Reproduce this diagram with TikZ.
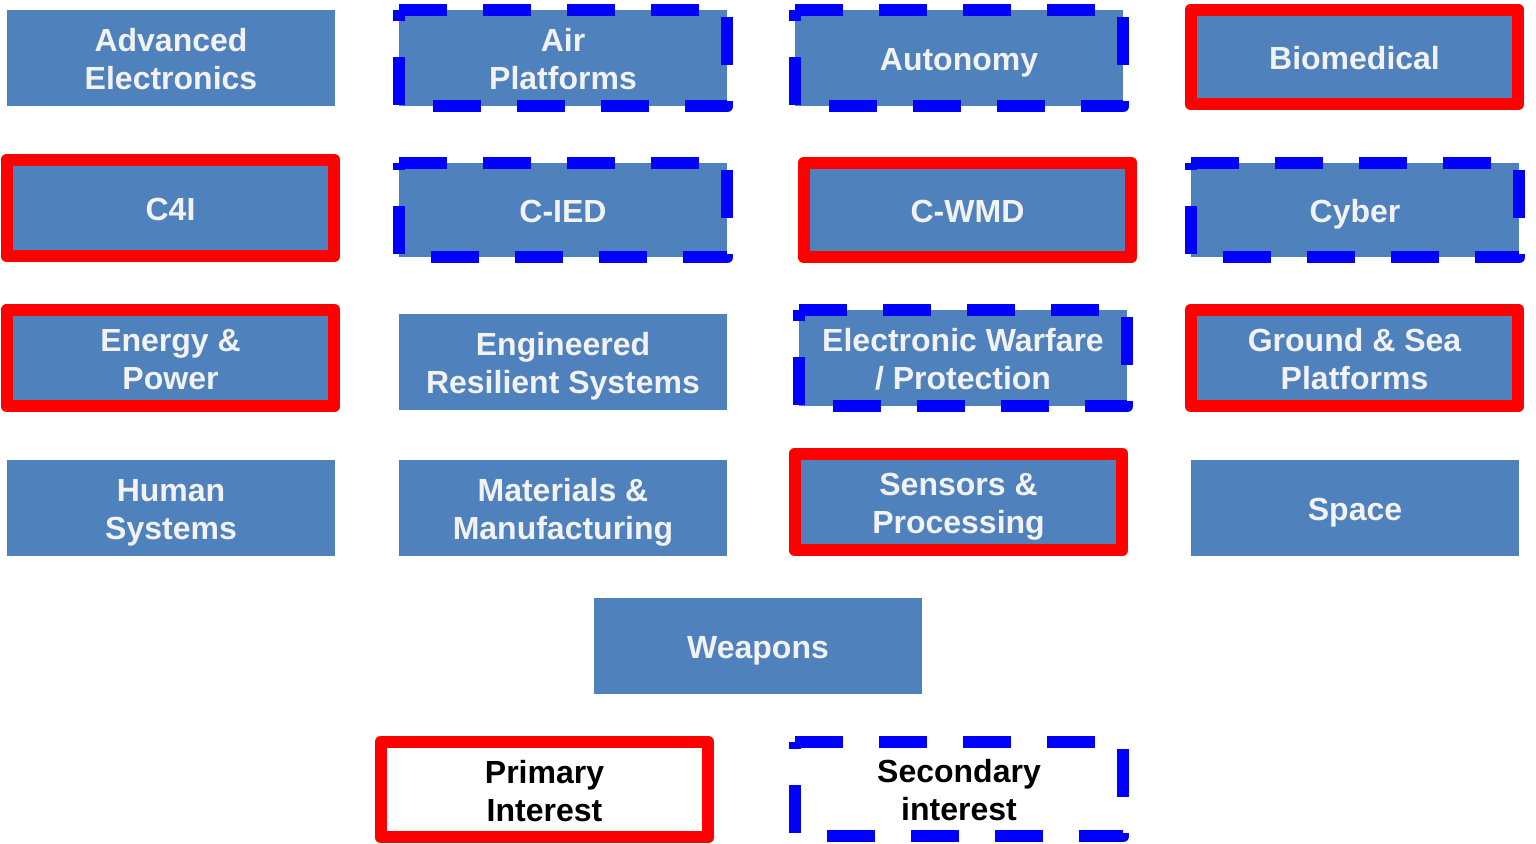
\documentclass[tikz,border=0pt]{standalone}
\usepackage{fontspec}
\setmainfont{Liberation Sans}
\definecolor{boxblue}{RGB}{79,129,189}
\definecolor{txtgray}{RGB}{242,242,242}
\newcommand{\myTopStrut}{\rule{0pt}{1.03em}}
\newcommand{\myBotStrut}{\rule[-0.25em]{0pt}{0.25em}}
\newcommand{\lbl}[1]{\myTopStrut#1\myBotStrut}
\begin{document}
\begin{tikzpicture}[x=0.5pt,y=-0.5pt,
  txt/.style={inner sep=0pt, align=center,
    font=\bfseries\fontsize{16}{19}\selectfont},
  box/.style={txt, fill=boxblue, text=txtgray},
  legendbox/.style={txt, text=black},
  sz/.style 2 args={minimum width=#1*0.5pt, minimum height=#2*0.5pt},
  redframe/.style={draw=red, line width=6pt, line join=round},
  blueframe/.style={draw=blue, line width=6pt, line join=round, line cap=butt,
    dash pattern=on 24pt off 18pt}]
\useasboundingbox (0,0) rectangle (1536,843);

% row 1
\node[box, sz={328}{96}] (adv) at (171,58) {\lbl{Advanced\\Electronics}};
\node[box, sz={328}{96}] (air) at (563,58) {\lbl{Air\\Platforms}};
\node[box, sz={328}{96}] (aut) at (959,58) {\lbl{Autonomy}};
\node[box, sz={327}{94}] (bio) at (1354.5,57) {\lbl{Biomedical}};
% row 2
\node[box, sz={327}{96}] (c4i) at (170.5,208) {\lbl{C4I}};
\node[box, sz={328}{94}] (cied) at (563,210) {\lbl{C-IED}};
\node[box, sz={327}{94}] (cwmd) at (967.5,210) {\lbl{C-WMD}};
\node[box, sz={328}{94}] (cyber) at (1355,210) {\lbl{Cyber}};
% row 3
\node[box, sz={327}{96}] (energy) at (170.5,358) {\lbl{Energy \&\\Power}};
\node[box, sz={328}{96}] (ers) at (563,362) {\lbl{Engineered\\Resilient Systems}};
\node[box, sz={328}{96}] (ew) at (963,358) {\lbl{Electronic Warfare\\/ Protection}};
\node[box, sz={327}{96}] (ground) at (1354.5,358) {\lbl{Ground \& Sea\\Platforms}};
% row 4
\node[box, sz={328}{96}] (human) at (171,508) {\lbl{Human\\Systems}};
\node[box, sz={328}{96}] (mat) at (563,508) {\lbl{Materials \&\\Manufacturing}};
\node[box, sz={327}{96}] (sens) at (958.5,502) {\lbl{Sensors \&\\Processing}};
\node[box, sz={328}{96}] (space) at (1355,508) {\lbl{Space}};
% row 5
\node[box, sz={328}{96}] (weap) at (758,646) {\lbl{Weapons}};
% legend
\node[legendbox, sz={327}{95}] (prim) at (544.5,789.5) {\lbl{Primary\\Interest}};
\node[legendbox, sz={328}{94}] (sec) at (959,789) {\lbl{Secondary\\interest}};

% primary-interest frames
\foreach \n in {bio,c4i,cwmd,energy,ground,sens,prim}
  \draw[redframe] (\n.north west) rectangle (\n.south east);
% secondary-interest frames (dashes start at the top-left corner, clockwise)
\foreach \n in {air,aut,cied,cyber,ew,sec}
  \draw[blueframe] (\n.north west) -- (\n.north east) -- (\n.south east)
    -- (\n.south west) -- cycle;
\end{tikzpicture}
\end{document}
